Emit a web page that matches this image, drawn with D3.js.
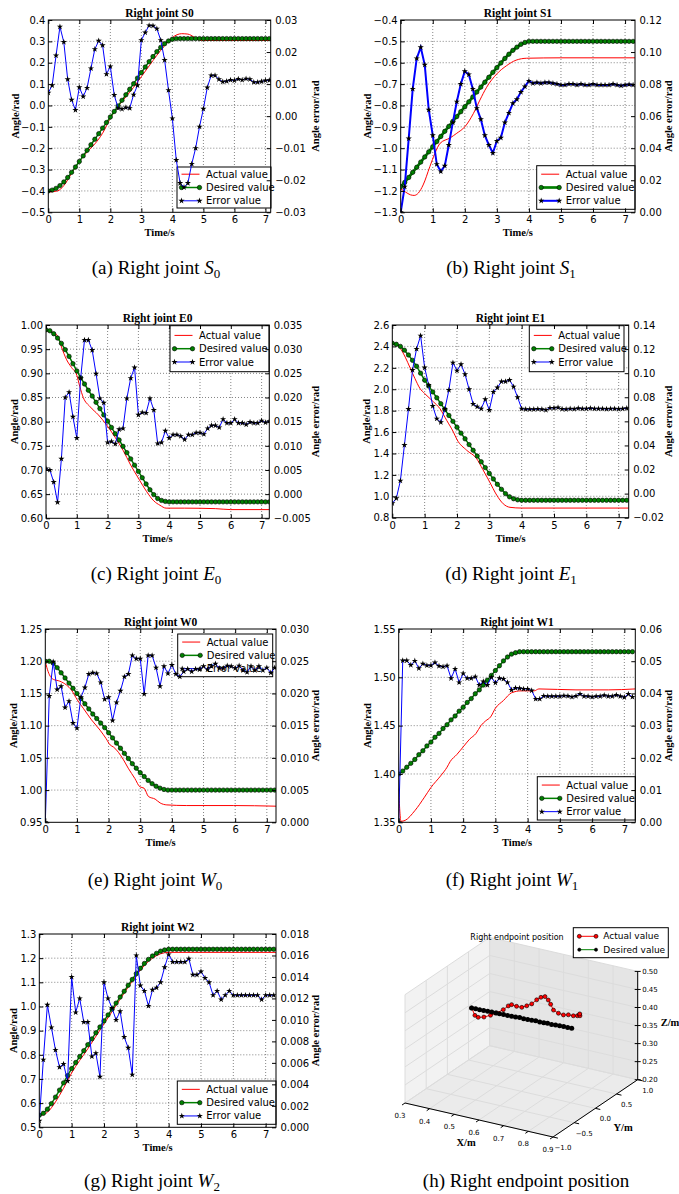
<!DOCTYPE html>
<html>
<head>
<meta charset="utf-8">
<script src="https://cdn.jsdelivr.net/npm/d3@7"></script>
<style>
  body { margin: 0; background: #fff; }
  .serif { font-family: "Liberation Serif", "Times New Roman", serif; }
  .sans { font-family: "DejaVu Sans", sans-serif; }
</style>
</head>
<body>
<script>
// Sample times shared by desired and error series (s)
var time = [0, 0.125, 0.25, 0.375, 0.5, 0.625, 0.75, 0.875, 1, 1.125, 1.25, 1.375, 1.5, 1.625, 1.75, 1.875,
  2, 2.125, 2.25, 2.375, 2.5, 2.625, 2.75, 2.875, 3, 3.125, 3.25, 3.375, 3.5, 3.625, 3.75, 3.875,
  4, 4.125, 4.25, 4.375, 4.5, 4.625, 4.75, 4.875, 5, 5.125, 5.25, 5.375, 5.5, 5.625, 5.75, 5.875,
  6, 6.125, 6.25, 6.375, 6.5, 6.625, 6.75, 6.875, 7, 7.125, 7.25];
var xTicks = [0, 1, 2, 3, 4, 5, 6, 7];

// ---- S0
var s0Desired = [-0.400, -0.396, -0.388, -0.375, -0.358, -0.337, -0.313, -0.288, -0.262, -0.236, -0.210, -0.184,
  -0.158, -0.132, -0.106, -0.080, -0.054, -0.028, -0.002, 0.024, 0.050, 0.076, 0.102, 0.128, 0.154, 0.180,
  0.205, 0.229, 0.252, 0.272, 0.289, 0.302, 0.310, 0.313, 0.313, 0.313, 0.313, 0.313, 0.313, 0.313, 0.313,
  0.313, 0.313, 0.313, 0.313, 0.313, 0.313, 0.313, 0.313, 0.313, 0.313, 0.313, 0.313, 0.313, 0.313, 0.313,
  0.313, 0.313, 0.313];
var s0Error = [0.0073, 0.0096, 0.0189, 0.0279, 0.0231, 0.0115, 0.0051, 0.0019, 0.0090, 0.0061, 0.0088, 0.0149,
  0.0209, 0.0235, 0.0221, 0.0131, 0.0155, 0.0066, 0.0025, 0.0022, 0.0027, 0.0025, 0.0067, 0.0096, 0.0237,
  0.0261, 0.0283, 0.0282, 0.0273, 0.0237, 0.0175, 0.0081, -0.0007, -0.0137, -0.0209, -0.0222, -0.0209,
  -0.0149, -0.0100, -0.0033, 0.0023, 0.0089, 0.0127, 0.0127, 0.0115, 0.0107, 0.0109, 0.0113, 0.0111, 0.0116,
  0.0113, 0.0117, 0.0115, 0.0106, 0.0106, 0.0108, 0.0111, 0.0112, 0.0111];
var s0ActualT = [0, 0.3, 0.5, 0.75, 1.0, 1.25, 1.5, 1.75, 2.0, 2.25, 2.5, 2.75, 3.0, 3.25, 3.5, 3.75, 4.0, 4.15,
  4.3, 4.5, 4.7, 4.85, 5.0, 5.5, 7.2];
var s0ActualV = [-0.405, -0.400, -0.375, -0.318, -0.262, -0.218, -0.180, -0.130, -0.060, -0.005, 0.040, 0.085,
  0.135, 0.185, 0.235, 0.280, 0.318, 0.331, 0.336, 0.334, 0.320, 0.307, 0.304, 0.304, 0.304];
var s0YTicks = [-0.5, -0.4, -0.3, -0.2, -0.1, 0, 0.1, 0.2, 0.3, 0.4];
var s0ETicks = [-0.03, -0.02, -0.01, 0, 0.01, 0.02, 0.03];

// ---- S1
var s1Desired = [-1.180, -1.160, -1.137, -1.113, -1.089, -1.065, -1.041, -1.017, -0.993, -0.969, -0.945, -0.921,
  -0.898, -0.875, -0.852, -0.829, -0.806, -0.783, -0.760, -0.737, -0.714, -0.691, -0.668, -0.645, -0.623,
  -0.601, -0.580, -0.560, -0.542, -0.527, -0.514, -0.505, -0.500, -0.500, -0.500, -0.500, -0.500, -0.500,
  -0.500, -0.500, -0.500, -0.500, -0.500, -0.500, -0.500, -0.500, -0.500, -0.500, -0.500, -0.500, -0.500,
  -0.500, -0.500, -0.500, -0.500, -0.500, -0.500, -0.500, -0.500];
var s1Error = [0.000, 0.016, 0.046, 0.077, 0.096, 0.103, 0.092, 0.064, 0.048, 0.030, 0.0255, 0.029, 0.042, 0.056,
  0.069, 0.080, 0.088, 0.086, 0.077, 0.065, 0.058, 0.048, 0.042, 0.037, 0.0445, 0.0465, 0.056, 0.062, 0.068,
  0.0705, 0.075, 0.0785, 0.082, 0.0805, 0.081, 0.0805, 0.081, 0.081, 0.0805, 0.080, 0.0795, 0.0795, 0.080,
  0.080, 0.0795, 0.080, 0.0795, 0.0795, 0.080, 0.0795, 0.0795, 0.0795, 0.0795, 0.080, 0.0795, 0.079, 0.0795,
  0.0798, 0.0795];
var s1ActualT = [0, 0.15, 0.3, 0.42, 0.55, 0.7, 0.91, 1.07, 1.23, 1.54, 1.75, 2.0, 2.27, 2.47, 2.68, 3.0, 3.3,
  3.6, 3.93, 5, 7.31];
var s1ActualV = [-1.190, -1.205, -1.218, -1.221, -1.210, -1.172, -1.086, -1.023, -0.977, -0.952, -0.930, -0.900,
  -0.837, -0.775, -0.715, -0.652, -0.614, -0.588, -0.579, -0.577, -0.577];
var s1YTicks = [-1.3, -1.2, -1.1, -1.0, -0.9, -0.8, -0.7, -0.6, -0.5, -0.4];
var s1ETicks = [0, 0.02, 0.04, 0.06, 0.08, 0.10, 0.12];

// ---- E0
var e0Desired = [0.990, 0.988, 0.982, 0.973, 0.962, 0.949, 0.935, 0.920, 0.905, 0.891, 0.878, 0.865, 0.853, 0.840,
  0.827, 0.814, 0.801, 0.788, 0.775, 0.762, 0.749, 0.736, 0.723, 0.710, 0.697, 0.684, 0.671, 0.659, 0.649,
  0.641, 0.637, 0.635, 0.634, 0.634, 0.634, 0.634, 0.634, 0.634, 0.634, 0.634, 0.634, 0.634, 0.634, 0.634,
  0.634, 0.634, 0.634, 0.634, 0.634, 0.634, 0.634, 0.634, 0.634, 0.634, 0.634, 0.634, 0.634, 0.634, 0.634];
var e0Error = [0.0053, 0.0050, 0.0025, -0.0017, 0.0073, 0.0200, 0.0211, 0.0160, 0.0116, 0.0240, 0.0319, 0.0319,
  0.0298, 0.0249, 0.0198, 0.0189, 0.0107, 0.0109, 0.0104, 0.0134, 0.0136, 0.0198, 0.0240, 0.0262, 0.0164,
  0.0169, 0.0168, 0.0198, 0.0174, 0.0105, 0.0107, 0.0131, 0.0116, 0.0123, 0.0123, 0.0120, 0.0113, 0.0123,
  0.0123, 0.0127, 0.0127, 0.0124, 0.0136, 0.0142, 0.0142, 0.0138, 0.0155, 0.0147, 0.0147, 0.0155, 0.0147,
  0.0147, 0.0144, 0.0149, 0.0147, 0.0147, 0.0152, 0.0148, 0.0151];
var e0ActualT = [0, 0.25, 0.4, 0.49, 0.67, 0.83, 1.0, 1.1, 1.21, 1.43, 1.7, 1.97, 2.25, 2.5, 2.75, 3.0, 3.27, 3.5,
  3.7, 3.9, 4.5, 5.5, 6.0, 7.25];
var e0ActualV = [0.988, 0.984, 0.975, 0.957, 0.928, 0.912, 0.896, 0.872, 0.850, 0.831, 0.814, 0.793, 0.767, 0.741,
  0.710, 0.683, 0.655, 0.636, 0.627, 0.621, 0.621, 0.620, 0.618, 0.618];
var e0YTicks = [0.60, 0.65, 0.70, 0.75, 0.80, 0.85, 0.90, 0.95, 1.00];
var e0ETicks = [-0.005, 0, 0.005, 0.010, 0.015, 0.020, 0.025, 0.030, 0.035];

// ---- E1
var e1Desired = [2.430, 2.420, 2.400, 2.365, 2.320, 2.270, 2.215, 2.150, 2.085, 2.030, 1.975, 1.920, 1.865, 1.810,
  1.755, 1.700, 1.645, 1.590, 1.537, 1.483, 1.430, 1.376, 1.322, 1.268, 1.214, 1.162, 1.112, 1.065, 1.025,
  0.995, 0.977, 0.967, 0.963, 0.963, 0.963, 0.963, 0.963, 0.963, 0.963, 0.963, 0.963, 0.963, 0.963, 0.963,
  0.963, 0.963, 0.963, 0.963, 0.963, 0.963, 0.963, 0.963, 0.963, 0.963, 0.963, 0.963, 0.963, 0.963, 0.963];
var e1Error = [-0.0081, -0.0039, 0.0107, 0.0403, 0.0702, 0.1026, 0.1201, 0.1311, 0.1046, 0.0902, 0.0727, 0.0622,
  0.0592, 0.0702, 0.0860, 0.1087, 0.1021, 0.1073, 0.0990, 0.0866, 0.0744, 0.0722, 0.0705, 0.0783, 0.0694,
  0.0844, 0.0880, 0.0930, 0.0930, 0.0943, 0.0888, 0.0799, 0.0705, 0.0700, 0.0700, 0.0700, 0.0702, 0.0700,
  0.0694, 0.0711, 0.0711, 0.0714, 0.0702, 0.0700, 0.0705, 0.0702, 0.0708, 0.0705, 0.0705, 0.0708, 0.0705,
  0.0705, 0.0705, 0.0702, 0.0705, 0.0705, 0.0702, 0.0705, 0.0708];
var e1ActualT = [0, 0.2, 0.4, 0.55, 0.7, 0.85, 1.0, 1.27, 1.47, 1.68, 1.89, 2.0, 2.3, 2.6, 2.8, 3.0, 3.23, 3.43,
  3.64, 4.0, 5.0, 7.31];
var e1ActualV = [2.430, 2.400, 2.300, 2.200, 2.100, 2.010, 1.960, 1.883, 1.820, 1.710, 1.600, 1.530, 1.430, 1.355,
  1.250, 1.140, 1.010, 0.930, 0.897, 0.890, 0.890, 0.890];
var e1YTicks = [0.8, 1.0, 1.2, 1.4, 1.6, 1.8, 2.0, 2.2, 2.4, 2.6];
var e1ETicks = [-0.02, 0, 0.02, 0.04, 0.06, 0.08, 0.10, 0.12, 0.14];

// ---- W0
var w0Desired = [1.200, 1.200, 1.197, 1.190, 1.182, 1.174, 1.166, 1.158, 1.150, 1.142, 1.134, 1.126, 1.118, 1.111,
  1.104, 1.097, 1.089, 1.081, 1.073, 1.065, 1.057, 1.049, 1.041, 1.034, 1.027, 1.021, 1.015, 1.010, 1.006,
  1.003, 1.001, 1.000, 1.000, 1.000, 1.000, 1.000, 1.000, 1.000, 1.000, 1.000, 1.000, 1.000, 1.000, 1.000,
  1.000, 1.000, 1.000, 1.000, 1.000, 1.000, 1.000, 1.000, 1.000, 1.000, 1.000, 1.000, 1.000, 1.000, 1.000];
var w0Error = [0.0000, 0.0196, 0.0249, 0.0206, 0.0211, 0.0178, 0.0188, 0.0154, 0.0146, 0.0194, 0.0209, 0.0230,
  0.0232, 0.0231, 0.0217, 0.0191, 0.0194, 0.0158, 0.0186, 0.0204, 0.0226, 0.0230, 0.0259, 0.0254, 0.0254,
  0.0199, 0.0259, 0.0259, 0.0240, 0.0211, 0.0242, 0.0231, 0.0244, 0.0230, 0.0226, 0.0234, 0.0238, 0.0234,
  0.0238, 0.0237, 0.0242, 0.0237, 0.0242, 0.0246, 0.0239, 0.0239, 0.0243, 0.0242, 0.0239, 0.0243, 0.0236,
  0.0233, 0.0242, 0.0236, 0.0242, 0.0236, 0.0240, 0.0232, 0.0240];
var w0ActualT = [0, 0.05, 0.13, 0.25, 0.46, 0.67, 0.83, 1.01, 1.2, 1.46, 1.73, 1.92, 2.05, 2.15, 2.47, 2.62, 2.83,
  2.99, 3.12, 3.26, 3.47, 3.63, 3.84, 4.47, 5.94, 7.29];
var w0ActualV = [1.200, 1.190, 1.179, 1.172, 1.169, 1.163, 1.155, 1.140, 1.127, 1.109, 1.093, 1.080, 1.070, 1.067,
  1.047, 1.034, 1.018, 1.005, 1.003, 0.990, 0.986, 0.980, 0.977, 0.976, 0.976, 0.975];
var w0YTicks = [0.95, 1.00, 1.05, 1.10, 1.15, 1.20, 1.25];
var w0ETicks = [0, 0.005, 0.010, 0.015, 0.020, 0.025, 0.030];

// ---- W1
var w1Desired = [1.400, 1.403, 1.407, 1.411, 1.415, 1.420, 1.424, 1.429, 1.433, 1.438, 1.442, 1.447, 1.451, 1.456,
  1.460, 1.465, 1.469, 1.474, 1.478, 1.483, 1.487, 1.492, 1.497, 1.502, 1.507, 1.512, 1.517, 1.521, 1.524,
  1.5255, 1.5265, 1.5265, 1.5265, 1.5265, 1.5265, 1.5265, 1.5265, 1.5265, 1.5265, 1.5265, 1.5265, 1.5265,
  1.5265, 1.5265, 1.5265, 1.5265, 1.5265, 1.5265, 1.5265, 1.5265, 1.5265, 1.5265, 1.5265, 1.5265, 1.5265,
  1.5265, 1.5265, 1.5265, 1.5265];
var w1Error = [0.0000, 0.0502, 0.0502, 0.0488, 0.0501, 0.0478, 0.0492, 0.0487, 0.0487, 0.0496, 0.0485, 0.0483,
  0.0486, 0.0447, 0.0476, 0.0434, 0.0462, 0.0447, 0.0447, 0.0452, 0.0426, 0.0437, 0.0426, 0.0450, 0.0433,
  0.0447, 0.0445, 0.0434, 0.0411, 0.0417, 0.0416, 0.0414, 0.0414, 0.0409, 0.0383, 0.0383, 0.0392, 0.0391,
  0.0391, 0.0391, 0.0391, 0.0393, 0.0392, 0.0389, 0.0392, 0.0398, 0.0391, 0.0391, 0.0389, 0.0391, 0.0391,
  0.0394, 0.0391, 0.0391, 0.0395, 0.0391, 0.0388, 0.0398, 0.0389];
var w1ActualT = [0, 0.07, 0.2, 0.5, 0.8, 1.0, 1.3, 1.5, 1.6, 1.8, 2.0, 2.2, 2.4, 2.55, 2.7, 2.85, 3.0, 3.25, 3.5,
  3.8, 4.2, 4.35, 5.5, 6.5, 7.34];
var w1ActualV = [1.385, 1.351, 1.352, 1.362, 1.376, 1.386, 1.398, 1.407, 1.413, 1.420, 1.428, 1.436, 1.442, 1.450,
  1.455, 1.459, 1.468, 1.476, 1.484, 1.486, 1.486, 1.488, 1.487, 1.487, 1.488];
var w1YTicks = [1.35, 1.40, 1.45, 1.50, 1.55];
var w1ETicks = [0, 0.01, 0.02, 0.03, 0.04, 0.05, 0.06];

// ---- W2
var w2Desired = [0.550, 0.558, 0.575, 0.598, 0.625, 0.654, 0.684, 0.714, 0.743, 0.768, 0.793, 0.817, 0.842, 0.866,
  0.891, 0.915, 0.940, 0.965, 0.989, 1.014, 1.039, 1.063, 1.088, 1.112, 1.136, 1.158, 1.178, 1.195, 1.209,
  1.220, 1.229, 1.234, 1.237, 1.237, 1.237, 1.237, 1.237, 1.237, 1.237, 1.237, 1.237, 1.237, 1.237, 1.237,
  1.237, 1.237, 1.237, 1.237, 1.237, 1.237, 1.237, 1.237, 1.237, 1.237, 1.237, 1.237, 1.237, 1.237, 1.237];
var w2Error = [0.0006, 0.0063, 0.0114, 0.0093, 0.0072, 0.0056, 0.0059, 0.0043, 0.0140, 0.0107, 0.0120, 0.0098,
  0.0098, 0.0066, 0.0069, 0.0047, 0.0135, 0.0120, 0.0111, 0.0100, 0.0108, 0.0084, 0.0074, 0.0049, 0.0160,
  0.0132, 0.0127, 0.0113, 0.0128, 0.0130, 0.0135, 0.0149, 0.0161, 0.0154, 0.0154, 0.0154, 0.0154, 0.0157,
  0.0142, 0.0142, 0.0145, 0.0139, 0.0135, 0.0123, 0.0127, 0.0119, 0.0123, 0.0127, 0.0123, 0.0123, 0.0123,
  0.0123, 0.0123, 0.0123, 0.0123, 0.0119, 0.0123, 0.0123, 0.0123];
var w2ActualT = [0, 0.25, 0.5, 0.75, 1.0, 1.5, 2.0, 2.5, 3.0, 3.25, 3.5, 3.75, 4.0, 7.32];
var w2ActualV = [0.548, 0.562, 0.605, 0.662, 0.725, 0.825, 0.928, 1.030, 1.128, 1.170, 1.200, 1.218, 1.224, 1.224];
var w2YTicks = [0.5, 0.6, 0.7, 0.8, 0.9, 1.0, 1.1, 1.2, 1.3];
var w2ETicks = [0, 0.002, 0.004, 0.006, 0.008, 0.010, 0.012, 0.014, 0.016, 0.018];

// ---- Endpoint position (m)
var endActualX = [0.364, 0.378, 0.392, 0.416, 0.444, 0.470, 0.498, 0.519, 0.533, 0.554, 0.576, 0.597, 0.618,
  0.639, 0.657, 0.674, 0.688, 0.698, 0.710, 0.731, 0.752, 0.773, 0.794, 0.811, 0.820, 0.822, 0.821];
var endActualY = [0.200, 0.197, 0.193, 0.188, 0.181, 0.175, 0.168, 0.163, 0.160, 0.155, 0.150, 0.145, 0.140,
  0.135, 0.131, 0.127, 0.123, 0.121, 0.118, 0.113, 0.108, 0.103, 0.098, 0.094, 0.092, 0.091, 0.092];
var endActualZ = [0.378, 0.360, 0.357, 0.362, 0.372, 0.383, 0.397, 0.411, 0.417, 0.416, 0.417, 0.425, 0.434,
  0.449, 0.459, 0.464, 0.457, 0.447, 0.433, 0.428, 0.427, 0.431, 0.432, 0.435, 0.440, 0.437, 0.442];
var endDesiredX = [0.364, 0.381, 0.398, 0.415, 0.432, 0.449, 0.466, 0.482, 0.499, 0.516, 0.533, 0.550, 0.567,
  0.584, 0.601, 0.618, 0.635, 0.652, 0.669, 0.685, 0.702, 0.719, 0.736, 0.753, 0.770, 0.787];
var endDesiredY = [0.200, 0.196, 0.192, 0.188, 0.184, 0.180, 0.176, 0.172, 0.168, 0.164, 0.160, 0.156, 0.152,
  0.148, 0.144, 0.140, 0.136, 0.132, 0.128, 0.124, 0.120, 0.116, 0.112, 0.108, 0.104, 0.100];
var endDesiredZ = [0.378, 0.379, 0.379, 0.380, 0.381, 0.382, 0.382, 0.383, 0.384, 0.384, 0.385, 0.386, 0.387,
  0.387, 0.388, 0.389, 0.390, 0.390, 0.391, 0.392, 0.392, 0.393, 0.394, 0.395, 0.395, 0.396];
var endXTicks = [0.3, 0.4, 0.5, 0.6, 0.7, 0.8, 0.9];
var endYTicks = [-1.0, -0.5, 0, 0.5, 1.0];
var endZTicks = [0.20, 0.25, 0.30, 0.35, 0.40, 0.45, 0.50];

var seriesNames = ["Actual value", "Desired value", "Error value"];

var svg = d3.select("body").append("svg").attr("width", 679).attr("height", 1194);

var panels = [
  { id: "a", box: [48.3, 270.7, 20, 212.3], xMax: 7.17, title: "Right joint S0",
    desired: s0Desired, error: s0Error, actT: s0ActualT, actV: s0ActualV,
    yDomain: [-0.5, 0.4], yTicks: s0YTicks, yFmt: ".1f", eDomain: [-0.03, 0.03], eTicks: s0ETicks, eFmt: ".2f",
    legend: [177, 167, 94, 41], lx: 15, rx: 315, cap: [156, 274, "(a) Right joint ", "S", "0"] },
  { id: "b", box: [400.7, 635, 20, 212.3], xMax: 7.31, title: "Right joint S1", thick: true,
    desired: s1Desired, error: s1Error, actT: s1ActualT, actV: s1ActualV,
    yDomain: [-1.3, -0.4], yTicks: s1YTicks, yFmt: ".1f", eDomain: [0, 0.12], eTicks: s1ETicks, eFmt: ".2f",
    legend: [536.7, 165.7, 98.3, 43.6], lx: 367, rx: 668, cap: [511, 274, "(b) Right joint ", "S", "1"] },
  { id: "c", box: [46, 269.3, 325, 518.3], xMax: 7.25, title: "Right joint E0",
    desired: e0Desired, error: e0Error, actT: e0ActualT, actV: e0ActualV,
    yDomain: [0.6, 1.0], yTicks: e0YTicks, yFmt: ".2f", eDomain: [-0.005, 0.035], eTicks: e0ETicks, eFmt: ".3f",
    legend: [170, 325.7, 99, 46], lx: 14, rx: 315, cap: [156, 580, "(c) Right joint ", "E", "0"] },
  { id: "d", box: [392.3, 628.7, 325, 517.7], xMax: 7.31, title: "Right joint E1",
    desired: e1Desired, error: e1Error, actT: e1ActualT, actV: e1ActualV,
    yDomain: [0.8, 2.6], yTicks: e1YTicks, yFmt: ".1f", eDomain: [-0.02, 0.14], eTicks: e1ETicks, eFmt: ".2f",
    legend: [529.3, 325.7, 94.7, 46], lx: 366, rx: 668, cap: [511, 580, "(d) Right joint ", "E", "1"] },
  { id: "e", box: [45.3, 276, 629, 822.3], xMax: 7.29, title: "Right joint W0",
    desired: w0Desired, error: w0Error, actT: w0ActualT, actV: w0ActualV,
    yDomain: [0.95, 1.25], yTicks: w0YTicks, yFmt: ".2f", eDomain: [0, 0.03], eTicks: w0ETicks, eFmt: ".3f",
    legend: [177.7, 634, 95, 42.7], lx: 13, rx: 315, cap: [155, 886, "(e) Right joint ", "W", "0"] },
  { id: "f", box: [398.7, 635.3, 629, 822.3], xMax: 7.34, title: "Right joint W1",
    desired: w1Desired, error: w1Error, actT: w1ActualT, actV: w1ActualV,
    yDomain: [1.35, 1.55], yTicks: w1YTicks, yFmt: ".2f", eDomain: [0, 0.06], eTicks: w1ETicks, eFmt: ".2f",
    legend: [537.3, 776.7, 98, 43.3], lx: 367, rx: 668, cap: [512, 886, "(f) Right joint ", "W", "1"] },
  { id: "g", box: [39.3, 276, 934, 1127.3], xMax: 7.32, title: "Right joint W2",
    desired: w2Desired, error: w2Error, actT: w2ActualT, actV: w2ActualV,
    yDomain: [0.5, 1.3], yTicks: w2YTicks, yFmt: ".1f", eDomain: [0, 0.018], eTicks: w2ETicks, eFmt: ".3f",
    legend: [177.3, 1081, 98.7, 43.3], lx: 13, rx: 315, cap: [152, 1187, "(g) Right joint ", "W", "2"] }
];

var star = d3.symbol().type(d3.symbolStar).size(12);

panels.forEach(drawPanel);
drawEndpoint();
caption([526, 1187, "(h) Right endpoint position"]);

function drawPanel(p) {
  var L = p.box[0], R = p.box[1], T = p.box[2], B = p.box[3];
  var w = p.thick ? 2 : 1;
  var x = d3.scaleLinear().domain([0, p.xMax]).range([L, R]);
  var y = d3.scaleLinear().domain(p.yDomain).range([B, T]);
  var y2 = d3.scaleLinear().domain(p.eDomain).range([B, T]);

  svg.append("clipPath").attr("id", "clip" + p.id).append("rect")
    .attr("x", L).attr("y", T).attr("width", R - L).attr("height", B - T);

  // dotted grid
  var grid = svg.append("g").attr("stroke", "#000").attr("stroke-width", 0.6)
    .attr("stroke-dasharray", "1,2").attr("opacity", 0.8);
  grid.selectAll("line.gx").data(xTicks.filter(function(d) { return d > 0; })).enter().append("line")
    .attr("class", "gx")
    .attr("x1", function(d) { return x(d); }).attr("x2", function(d) { return x(d); })
    .attr("y1", T).attr("y2", B);
  grid.selectAll("line.gy").data(p.yTicks.slice(1, -1)).enter().append("line")
    .attr("class", "gy")
    .attr("x1", L).attr("x2", R)
    .attr("y1", function(d) { return y(d); }).attr("y2", function(d) { return y(d); });

  // angle axis: actual and desired
  var plot = svg.append("g").attr("clip-path", "url(#clip" + p.id + ")");
  var actual = p.actT.map(function(t, i) { return [t, p.actV[i]]; });
  plot.append("path").datum(actual)
    .attr("d", d3.line().x(function(d) { return x(d[0]); }).y(function(d) { return y(d[1]); }).curve(d3.curveMonotoneX))
    .attr("fill", "none").attr("stroke", "#ff0000").attr("stroke-width", 1);

  var desired = time.map(function(t, i) { return [t, p.desired[i]]; })
    .filter(function(d) { return d[1] !== undefined; });
  plot.append("path").datum(desired)
    .attr("d", d3.line().x(function(d) { return x(d[0]); }).y(function(d) { return y(d[1]); }))
    .attr("fill", "none").attr("stroke", "#008000").attr("stroke-width", 1.5 * w * 0.8 + 0.3);
  plot.selectAll("circle").data(desired).enter().append("circle")
    .attr("cx", function(d) { return x(d[0]); }).attr("cy", function(d) { return y(d[1]); })
    .attr("r", 2.2).attr("fill", "#008000").attr("stroke", "#000").attr("stroke-width", 0.6);

  // legend (belongs to the first axis, so the error curve is drawn over it)
  drawLegend(p.legend, w);

  // error axis
  var errLayer = svg.append("g").attr("clip-path", "url(#clip" + p.id + ")");
  var err = time.map(function(t, i) { return [t, p.error[i]]; })
    .filter(function(d) { return d[1] !== undefined; });
  errLayer.append("path").datum(err)
    .attr("d", d3.line().x(function(d) { return x(d[0]); }).y(function(d) { return y2(d[1]); }))
    .attr("fill", "none").attr("stroke", "#0000ff").attr("stroke-width", w);
  errLayer.selectAll("path.st").data(err).enter().append("path").attr("class", "st")
    .attr("d", star)
    .attr("transform", function(d) { return "translate(" + x(d[0]) + "," + y2(d[1]) + ")"; })
    .attr("fill", "#000");

  // axes with inward ticks
  var ax = svg.append("g");
  ax.append("g").attr("transform", "translate(0," + B + ")")
    .call(d3.axisBottom(x).tickValues(xTicks).tickFormat(d3.format("d")).tickSizeInner(-4).tickSizeOuter(0).tickPadding(4));
  ax.append("g").attr("transform", "translate(0," + T + ")")
    .call(d3.axisTop(x).tickValues(xTicks).tickFormat("").tickSizeInner(-4).tickSizeOuter(0));
  ax.append("g").attr("transform", "translate(" + L + ",0)")
    .call(d3.axisLeft(y).tickValues(p.yTicks).tickFormat(d3.format(p.yFmt)).tickSizeInner(-4).tickSizeOuter(0).tickPadding(3));
  ax.append("g").attr("transform", "translate(" + R + ",0)")
    .call(d3.axisRight(y2).tickValues(p.eTicks).tickFormat(d3.format(p.eFmt)).tickSizeInner(-4).tickSizeOuter(0).tickPadding(4.5));
  ax.selectAll(".domain").remove();
  ax.selectAll("g").attr("font-family", "DejaVu Sans").attr("font-size", 10);
  ax.selectAll("line").attr("stroke", "#000");
  ax.selectAll("text").attr("fill", "#000");

  svg.append("rect").attr("x", L).attr("y", T).attr("width", R - L).attr("height", B - T)
    .attr("fill", "none").attr("stroke", "#000").attr("stroke-width", 1);

  // titles and axis labels
  svg.append("text").attr("class", "serif").attr("x", (L + R) / 2).attr("y", T - 3)
    .attr("text-anchor", "middle").attr("font-size", 11.5).attr("font-weight", "bold").text(p.title);
  svg.append("text").attr("class", "serif").attr("x", (L + R) / 2).attr("y", B + 24)
    .attr("text-anchor", "middle").attr("font-size", 10.5).attr("font-weight", "bold").text("Time/s");
  svg.append("text").attr("class", "serif")
    .attr("transform", "translate(" + p.lx + "," + (T + B) / 2 + ") rotate(-90)")
    .attr("text-anchor", "middle").attr("dy", "0.35em").attr("font-size", 10.5).attr("font-weight", "bold").text("Angle/rad");
  svg.append("text").attr("class", "serif")
    .attr("transform", "translate(" + p.rx + "," + (T + B) / 2 + ") rotate(-90)")
    .attr("text-anchor", "middle").attr("dy", "0.35em").attr("font-size", 10.5).attr("font-weight", "bold").text("Angle error/rad");

  caption(p.cap);
}

function drawLegend(b, w) {
  var g = svg.append("g");
  g.append("rect").attr("x", b[0]).attr("y", b[1]).attr("width", b[2]).attr("height", b[3])
    .attr("fill", "#fff").attr("stroke", "#000").attr("stroke-width", 1);
  var h0 = b[0] + 4.5, h1 = b[0] + 22.5;
  seriesNames.forEach(function(name, i) {
    var cy = b[1] + b[3] / 2 + (i - 1) * 13.3;
    var color = ["#ff0000", "#008000", "#0000ff"][i];
    g.append("line").attr("x1", h0).attr("x2", h1).attr("y1", cy).attr("y2", cy)
      .attr("stroke", color).attr("stroke-width", i === 0 ? 1 : (i === 1 ? 1.5 * w * 0.8 + 0.3 : w));
    if (i === 1) {
      [h0, h1].forEach(function(hx) {
        g.append("circle").attr("cx", hx).attr("cy", cy).attr("r", 2.2)
          .attr("fill", "#008000").attr("stroke", "#000").attr("stroke-width", 0.6);
      });
    }
    if (i === 2) {
      [h0, h1].forEach(function(hx) {
        g.append("path").attr("d", star).attr("transform", "translate(" + hx + "," + cy + ")").attr("fill", "#000");
      });
    }
    g.append("text").attr("class", "sans").attr("x", b[0] + 29).attr("y", cy).attr("dy", "0.35em")
      .attr("font-size", 10).text(name);
  });
}

function caption(c) {
  var t = svg.append("text").attr("class", "serif").attr("x", c[0]).attr("y", c[1])
    .attr("text-anchor", "middle").attr("font-size", 19).style("white-space", "pre");
  t.append("tspan").text(c[2]);
  if (c[3]) {
    t.append("tspan").attr("font-style", "italic").text(c[3]);
    t.append("tspan").attr("font-size", 13).attr("dy", 4).text(c[4]);
  }
}

function drawEndpoint() {
  var sx = d3.scaleLinear().domain([0.3, 0.9]).range([0, 1]);
  var sy = d3.scaleLinear().domain([-1, 1]).range([0, 1]);
  var sz = d3.scaleLinear().domain([0.2, 0.5]).range([0, 1]);
  // oblique view of the box: origin corner and screen vectors of the three axes
  function project(X, Y, Z) {
    var a = sx(X), b = sy(Y), c = sz(Z);
    return [405 + 148 * a + 84.7 * b, 1103 + 34 * a - 57.3 * b - 108.3 * c];
  }
  var x0 = 0.3, x1 = 0.9, y0 = -1, y1 = 1, z0 = 0.2, z1 = 0.5;
  var g = svg.append("g");
  var poly = function(pts) { return "M" + pts.map(function(q) { return project(q[0], q[1], q[2]).join(","); }).join("L") + "Z"; };
  var seg = function(a, b, stroke, sw) {
    var p0 = project(a[0], a[1], a[2]), p1 = project(b[0], b[1], b[2]);
    g.append("line").attr("x1", p0[0]).attr("y1", p0[1]).attr("x2", p1[0]).attr("y2", p1[1])
      .attr("stroke", stroke).attr("stroke-width", sw);
  };

  g.append("path").attr("d", poly([[x0, y0, z0], [x0, y1, z0], [x0, y1, z1], [x0, y0, z1]])).attr("fill", "#f2f2f2");
  g.append("path").attr("d", poly([[x0, y1, z0], [x1, y1, z0], [x1, y1, z1], [x0, y1, z1]])).attr("fill", "#e5e5e5");
  g.append("path").attr("d", poly([[x0, y0, z0], [x1, y0, z0], [x1, y1, z0], [x0, y1, z0]])).attr("fill", "#ebebeb");

  var gc = "#dcdcdc";
  endXTicks.forEach(function(v) { seg([v, y0, z0], [v, y1, z0], gc, 1); seg([v, y1, z0], [v, y1, z1], gc, 1); });
  endYTicks.forEach(function(v) { seg([x0, v, z0], [x1, v, z0], gc, 1); seg([x0, v, z0], [x0, v, z1], gc, 1); });
  endZTicks.forEach(function(v) { seg([x0, y0, v], [x0, y1, v], gc, 1); seg([x0, y1, v], [x1, y1, v], gc, 1); });

  // axis lines
  seg([x0, y0, z0], [x1, y0, z0], "#000", 1);
  seg([x1, y0, z0], [x1, y1, z0], "#000", 1);
  seg([x1, y1, z0], [x1, y1, z1], "#000", 1);
  endXTicks.forEach(function(v) { seg([v, y0, z0], [v, y0 - 0.07, z0], "#000", 1); });
  endYTicks.forEach(function(v) { seg([x1, v, z0], [x1 + 0.02, v, z0], "#000", 1); });
  endZTicks.forEach(function(v) {
    var q = project(x1, y1, v);
    g.append("line").attr("x1", q[0] - 3).attr("x2", q[0] + 3).attr("y1", q[1]).attr("y2", q[1]).attr("stroke", "#000");
  });

  var lab = g.append("g").attr("class", "sans").attr("font-size", 7).attr("fill", "#000");
  endXTicks.forEach(function(v) {
    var q = project(v, y0, z0);
    lab.append("text").attr("x", q[0] - 5).attr("y", q[1] + 15).attr("text-anchor", "middle").text(d3.format(".1f")(v));
  });
  endYTicks.forEach(function(v) {
    var q = project(x1, v, z0);
    lab.append("text").attr("x", q[0] + 10).attr("y", q[1] + 13).attr("text-anchor", "middle").text(d3.format(".1f")(v));
  });
  endZTicks.forEach(function(v) {
    var q = project(x1, y1, v);
    lab.append("text").attr("x", q[0] + 4.5).attr("y", q[1]).attr("dy", "0.35em").text(d3.format(".2f")(v));
  });

  g.append("text").attr("class", "serif").attr("x", 466).attr("y", 1146).attr("text-anchor", "middle")
    .attr("font-size", 10.5).attr("font-weight", "bold").text("X/m");
  g.append("text").attr("class", "serif").attr("x", 623).attr("y", 1131).attr("text-anchor", "middle")
    .attr("font-size", 10.5).attr("font-weight", "bold").text("Y/m");
  g.append("text").attr("class", "serif").attr("x", 670).attr("y", 1026).attr("text-anchor", "middle")
    .attr("font-size", 10.5).attr("font-weight", "bold").text("Z/m");
  g.append("text").attr("class", "sans").attr("x", 517).attr("y", 940).attr("text-anchor", "middle")
    .attr("font-size", 8).text("Right endpoint position");

  // trajectories
  var act = endActualX.map(function(v, i) { return project(v, endActualY[i], endActualZ[i]); });
  var des = endDesiredX.map(function(v, i) { return project(v, endDesiredY[i], endDesiredZ[i]); });
  g.append("path").datum(act).attr("d", d3.line()).attr("fill", "none").attr("stroke", "#ff0000").attr("stroke-width", 1);
  g.selectAll("circle.act").data(act).enter().append("circle").attr("class", "act")
    .attr("cx", function(d) { return d[0]; }).attr("cy", function(d) { return d[1]; })
    .attr("r", 2).attr("fill", "#ff0000").attr("stroke", "#000").attr("stroke-width", 0.6);
  g.append("path").datum(des).attr("d", d3.line()).attr("fill", "none").attr("stroke", "#008000").attr("stroke-width", 1);
  g.selectAll("circle.des").data(des).enter().append("circle").attr("class", "des")
    .attr("cx", function(d) { return d[0]; }).attr("cy", function(d) { return d[1]; })
    .attr("r", 2.5).attr("fill", "#000");

  // legend
  var lg = svg.append("g");
  lg.append("rect").attr("x", 573.3).attr("y", 927.7).attr("width", 95).attr("height", 30)
    .attr("fill", "#fff").attr("stroke", "#000").attr("stroke-width", 1);
  [["Actual value", "#ff0000", "#ff0000", 2], ["Desired value", "#008000", "#000", 1.6]].forEach(function(e, i) {
    var cy = 936.3 + i * 13.4;
    lg.append("line").attr("x1", 579.3).attr("x2", 596).attr("y1", cy).attr("y2", cy).attr("stroke", e[1]);
    [579.3, 596].forEach(function(hx) {
      lg.append("circle").attr("cx", hx).attr("cy", cy).attr("r", e[3]).attr("fill", e[2])
        .attr("stroke", "#000").attr("stroke-width", 0.6);
    });
    lg.append("text").attr("class", "sans").attr("x", 603.3).attr("y", cy).attr("dy", "0.35em")
      .attr("font-size", 9).text(e[0]);
  });
}
</script>
</body>
</html>
